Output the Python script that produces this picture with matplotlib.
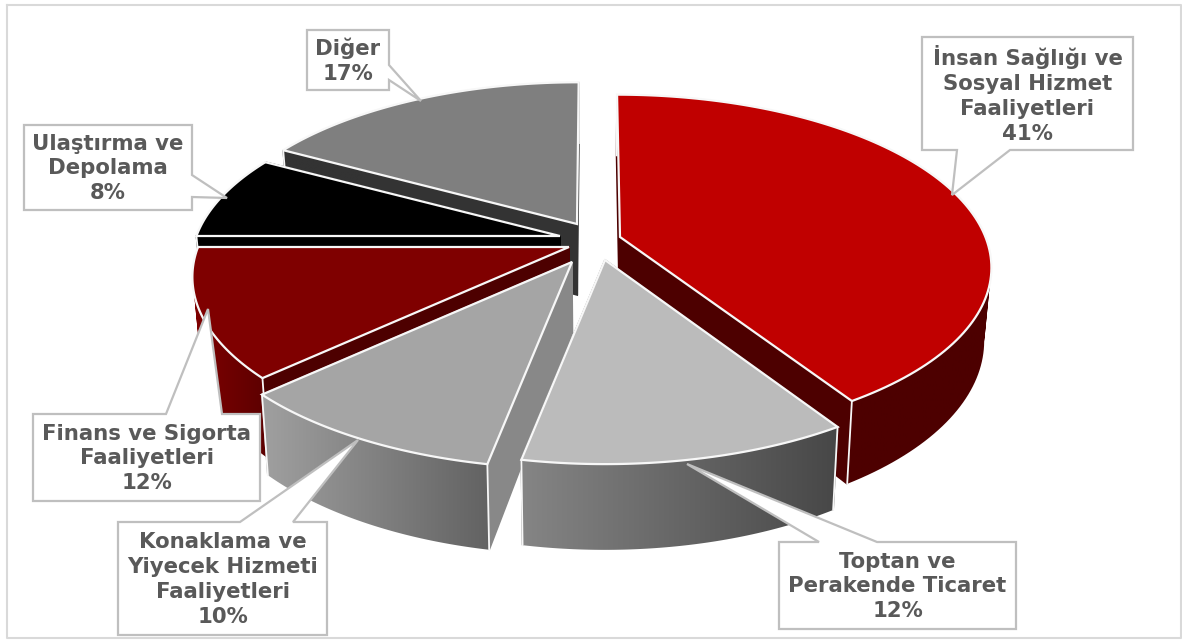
import numpy as np
import matplotlib
matplotlib.use("Agg")
from matplotlib import pyplot as plt
from matplotlib.colors import LinearSegmentedColormap
from matplotlib.path import Path

# dilimler, saat yonunde, tepeden baslayarak
labels = ["İnsan Sağlığı ve\nSosyal Hizmet\nFaaliyetleri",
          "Toptan ve\nPerakende Ticaret",
          "Konaklama ve\nYiyecek Hizmeti\nFaaliyetleri",
          "Finans ve Sigorta\nFaaliyetleri",
          "Ulaştırma ve\nDepolama",
          "Diğer"]
values = [41, 12, 10, 12, 8, 17]

# gorunum ayarlari
top_col = ["#C00000", "#BBBBBB", "#A5A5A5", "#7F0000", "#000000", "#7F7F7F"]
side_col = ["#4D0000", "#4A4A4A", "#888888", "#4D0000", "#000000", "#333333"]
# dis yuzey gecisi: soldan saga
rim_left = ["#4D0000", "#858585", "#A0A0A0", "#800000", "#000000", "#333333"]
rim_right = ["#4D0000", "#474747", "#626262", "#5C0000", "#000000", "#333333"]
apex = [(620, 237), (605, 260), (572, 262), (569, 247), (560, 236), (577, 224)]
scale = [0.985, 1.0, 1.01, 1.0, 0.98, 0.98]
lean = [3.5, 0, 0, 0, 0, -2]
draw_order = [5, 4, 3, 0, 2, 1]

rx = 371
ry = 169
persp = 0.172
depth = 71
xc = 590
shrink = 0.018
edge = "#F7F7F7"


def project(ang, i, r=1.0, low=False):
    r = r*scale[i]
    u = r*np.sin(ang)
    v = r*np.cos(ang)
    s = 1/(1 + persp*v)
    x = apex[i][0] + rx*u*s - lean[i]*v*s
    y = apex[i][1] - ry*v*s
    if low:
        y = y + depth*s
        x = x - (x - xc)*shrink
    return x, y


fig = plt.figure(figsize=(11.82, 6.4), dpi=100)
ax = fig.add_axes([0, 0, 1, 1])
ax.set_xlim(0, 1182)
ax.set_ylim(640, 0)
ax.axis("off")

# dis cerceve
ax.plot([7, 1181, 1181, 7, 7], [5, 5, 638, 638, 5], color="#D9D9D9", lw=1.5, zorder=1)

edges = np.cumsum([0] + values)/sum(values)*2*np.pi
z = 2
for i in draw_order:
    ang = np.linspace(edges[i], edges[i+1], 120)
    x_top, y_top = project(ang, i)
    x_low, y_low = project(ang, i, low=True)
    ax0, ay0 = project(0.0, i, r=0.0)
    bx0, by0 = project(0.0, i, r=0.0, low=True)

    # radyal duvarlar
    for k in [-1, 0]:
        ax.fill([ax0, x_top[k], x_low[k], bx0], [ay0, y_top[k], y_low[k], by0],
                facecolor=side_col[i], edgecolor=side_col[i], lw=1.2, zorder=z)
    z += 1

    # dis yuzey: yan yana dortgenler, gecis sadece onlarin icinde gorunur
    quads = []
    for k in range(len(ang)-1):
        q = [(x_top[k], y_top[k]), (x_top[k+1], y_top[k+1]),
             (x_low[k+1], y_low[k+1]), (x_low[k], y_low[k])]
        if x_top[k] > x_top[k+1]:
            q = q[::-1]
        quads.append(Path(q + [q[0]], closed=True))
    rim_x = np.r_[x_top, x_low]
    rim_y = np.r_[y_top, y_low]
    cmap = LinearSegmentedColormap.from_list("rim", [rim_left[i], rim_right[i]])
    im = ax.imshow(np.linspace(0, 1, 256).reshape(1, -1), cmap=cmap, aspect="auto",
                   extent=[rim_x.min(), rim_x.max(), rim_y.max(), rim_y.min()],
                   zorder=z, interpolation="bilinear")
    im.set_clip_path(Path.make_compound_path(*quads), transform=ax.transData)
    z += 1
    ax.plot([x_top[0], x_low[0]], [y_top[0], y_low[0]], color=edge, lw=1.3, zorder=z)
    ax.plot([x_top[-1], x_low[-1]], [y_top[-1], y_low[-1]], color=edge, lw=1.3, zorder=z)
    z += 1

    # ust yuzey
    ax.fill(np.r_[ax0, x_top], np.r_[ay0, y_top], facecolor=top_col[i],
            edgecolor=edge, lw=1.6, joinstyle="miter", zorder=z)
    z += 1

ax.set_xlim(0, 1182)
ax.set_ylim(640, 0)

# etiket kutulari: kutu, ok tabani, ok ucu
boxes = [(922, 37, 1133, 150), (779, 542, 1016, 629), (118, 522, 327, 635),
         (33, 414, 260, 501), (24, 125, 192, 210), (307, 30, 389, 90)]
callouts = [
    [(922, 37), (1133, 37), (1133, 150), (1010, 150), (952, 195), (957, 150), (922, 150)],
    [(779, 542), (819, 542), (687, 464), (877, 542), (1016, 542), (1016, 629), (779, 629)],
    [(118, 522), (240, 522), (358, 440), (293, 522), (327, 522), (327, 635), (118, 635)],
    [(33, 414), (166, 414), (208, 309), (222, 414), (260, 414), (260, 501), (33, 501)],
    [(24, 125), (192, 125), (192, 175), (227, 198), (192, 197), (192, 210), (24, 210)],
    [(307, 30), (389, 30), (389, 65), (421, 101), (389, 80), (389, 90), (307, 90)],
]
for i in range(len(labels)):
    xs, ys = zip(*callouts[i])
    ax.fill(xs, ys, facecolor="white", edgecolor="#BFBFBF", lw=1.6,
            joinstyle="miter", zorder=z)
    b = boxes[i]
    ax.text((b[0]+b[2])/2, (b[1]+b[3])/2 + 1, labels[i] + "\n" + str(values[i]) + "%",
            ha="center", va="center", multialignment="center",
            color="#595959", fontsize=15.3, fontweight="bold",
            family="DejaVu Sans", linespacing=1.31, zorder=z+1)

fig.savefig("out.png", dpi=100)
